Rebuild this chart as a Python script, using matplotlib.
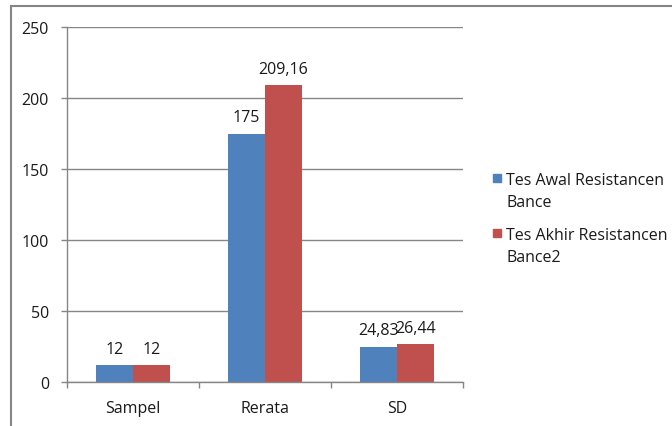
import matplotlib
matplotlib.use("Agg")
import matplotlib.pyplot as plt
from matplotlib.lines import Line2D
from matplotlib.patches import Rectangle
import numpy as np

categories = ["Sampel", "Rerata", "SD"]
tes_awal = [12, 175, 24.83]
tes_akhir = [12, 209.16, 26.44]
series_names = ["Tes Awal Resistancen\nBance", "Tes Akhir Resistancen\nBance2"]
y_ticks = [0, 50, 100, 150, 200, 250]

BLUE = "#4F81BD"
RED = "#C0504D"
GRID = "#868686"
FS = 11.5

plt.rcParams["font.family"] = ["Open Sans", "DejaVu Sans"]

fig = plt.figure(figsize=(6.72, 4.27), dpi=100)
ax = fig.add_axes([67 / 672, 1 - 383 / 427, 396 / 672, 355 / 427])

x = np.arange(len(categories))
w = 0.28
b1 = ax.bar(x - w / 2, tes_awal, w, color=BLUE, zorder=3)
b2 = ax.bar(x + w / 2, tes_akhir, w, color=RED, zorder=3)


def fmt(v):
    s = f"{v:.2f}".rstrip("0").rstrip(".")
    return s.replace(".", ",")


for bars, vals in ((b1, tes_awal), (b2, tes_akhir)):
    for rect, v in zip(bars, vals):
        ax.annotate(fmt(v), (rect.get_x() + rect.get_width() / 2, v),
                    xytext=(0, 6), textcoords="offset points",
                    ha="center", va="bottom", fontsize=FS, color="#1a1a1a")

ax.set_xlim(-0.5, len(categories) - 0.5)
ax.set_ylim(0, 250)
ax.set_yticks(y_ticks)
ax.set_yticklabels([str(t) for t in y_ticks], fontsize=FS, color="#1a1a1a")
ax.set_xticks(x)
ax.set_xticklabels(categories, fontsize=FS, color="#1a1a1a")
ax.set_xticks(np.arange(-0.5, len(categories)), minor=True)
ax.tick_params(axis="x", which="major", length=0, pad=13)
ax.tick_params(axis="x", which="minor", length=4, color=GRID, width=1)
ax.tick_params(axis="y", length=4, color=GRID, width=1, pad=9)
ax.yaxis.grid(True, color=GRID, linewidth=1)
ax.set_axisbelow(True)
for side in ("top", "right"):
    ax.spines[side].set_visible(False)
for side in ("left", "bottom"):
    ax.spines[side].set_color(GRID)
    ax.spines[side].set_linewidth(1)
ax.spines["left"].set_zorder(4)
ax.spines["bottom"].set_zorder(4)

# legend drawn by hand (Excel style: marker aligned with first line)
leg_colors = [BLUE, RED]
leg_y = [179, 234]
for name, col, yy in zip(series_names, leg_colors, leg_y):
    fig.patches.append(Rectangle((493 / 672, 1 - (yy + 4) / 427), 8 / 672, 8 / 427,
                                 transform=fig.transFigure, color=col))
    fig.text(506 / 672, 1 - (yy - 6) / 427, name, fontsize=FS, color="#1a1a1a",
             va="top", ha="left", linespacing=1.5)

# chart area border
fig.add_artist(Line2D([10.5 / 672, 1], [1 - 6.5 / 427] * 2, color=GRID, linewidth=1.5))
fig.add_artist(Line2D([10.5 / 672] * 2, [0, 1 - 6.5 / 427], color=GRID, linewidth=1.5))

fig.savefig("out.png", dpi=100)
